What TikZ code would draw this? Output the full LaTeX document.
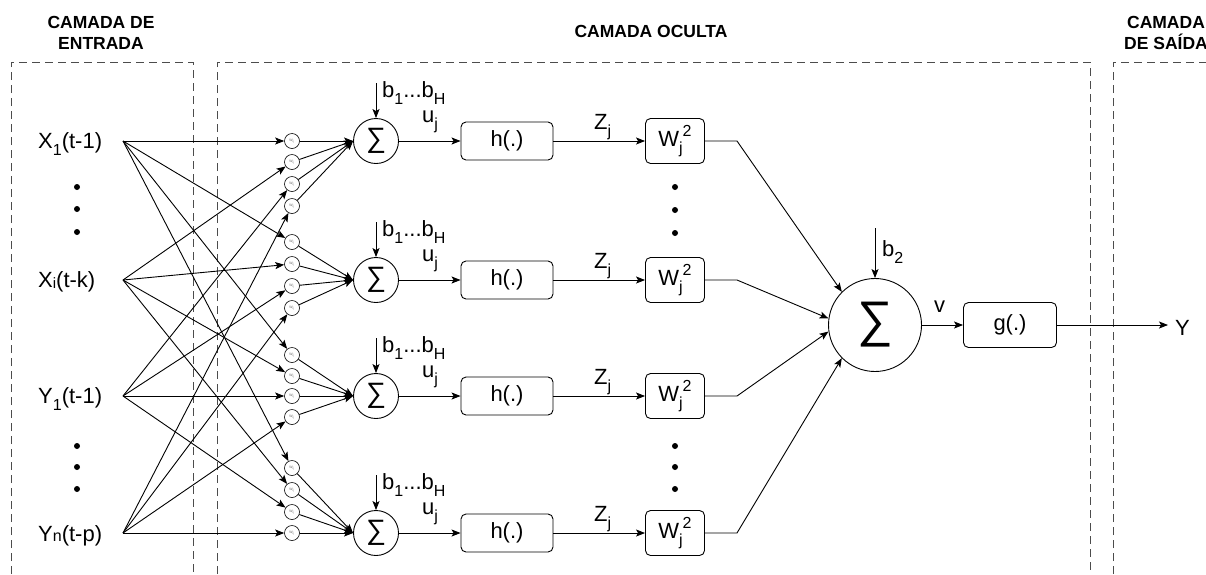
\documentclass[tikz,border=0pt]{standalone}
\usepackage{fontspec}
\setmainfont{Liberation Sans}
\usetikzlibrary{arrows.meta}
% lowered / raised indices set a little larger than \textsubscript
\newcommand\lowidx[1]{\raisebox{-0.32em}{\fontsize{16}{16}\selectfont #1}}
\newcommand\highidx[1]{\raisebox{0.45em}{\fontsize{16}{16}\selectfont #1}}
\begin{document}
\begin{tikzpicture}[x=1pt,y=-1pt,
  conn/.style={draw, line width=0.9pt},
  arr/.style={-{Stealth[length=9pt,width=7pt,inset=2pt]}},
  wt/.style={circle, draw, line width=0.6pt, minimum size=15pt, inner sep=0pt,
    font=\fontsize{4.5}{4.5}\selectfont, text=black!55},
  sumnode/.style={circle, draw, line width=0.9pt, minimum size=45pt, inner sep=0pt,
    font=\fontsize{28}{30}\selectfont},
  fbox/.style={draw, rounded corners=5pt, line width=0.9pt, minimum width=92pt,
    minimum height=38pt, inner sep=0pt, font=\fontsize{22}{24}\selectfont},
  wbox/.style={fbox, minimum width=59pt, minimum height=45pt},
  lbl/.style={font=\fontsize{22}{24}\selectfont, inner sep=0pt},
  ttl/.style={font=\bfseries\fontsize{17.5}{21}\selectfont, align=center, inner sep=0pt},
  zone/.style={draw=black!70, line width=0.9pt, dash pattern=on 8pt off 5pt},
  dot/.style={circle, fill, minimum size=6pt, inner sep=0pt}
]
\clip (0,0) rectangle (1206,574);

% layer frames
\draw[zone] (11,600) -- (11,62) -- (193,62) -- (193,600);
\draw[zone] (217,600) -- (217,62) -- (1090,62) -- (1090,600);
\draw[zone] (1113,600) -- (1113,62) -- (1230,62);

% titles
\node[ttl] (tin) at (101,33) {CAMADA DE\\ENTRADA};
\node[ttl] (thid) at (651,31) {CAMADA OCULTA};
\node[ttl] (tout) at (1166,33) {CAMADA\\DE SAÍDA};

% inputs
\node[lbl, anchor=base west] (x1) at (38,148) {X\lowidx{1}(t-1)};
\node[lbl, anchor=base west] (xi) at (38,287) {X{\fontsize{15}{15}\selectfont\raisebox{-0.1em}{i}}(t-k)};
\node[lbl, anchor=base west] (y1) at (38,403) {Y\lowidx{1}(t-1)};
\node[lbl, anchor=base west] (yn) at (38,541) {Y{\fontsize{16}{16}\selectfont n}(t-p)};
\coordinate (o1) at (123,141);
\coordinate (o2) at (123,280);
\coordinate (o3) at (123,396);
\coordinate (o4) at (123,533);

\node[dot] (da1) at (77,187) {};
\node[dot] (da2) at (77,209) {};
\node[dot] (da3) at (77,232) {};
\node[dot] (db1) at (77,446) {};
\node[dot] (db2) at (77,467) {};
\node[dot] (db3) at (77,489) {};

% weights
\foreach \g/\a/\b/\c/\d in {1/141/162/184/206, 2/242/264/286/308,
                            3/355/376/396/417, 4/468/490/512/533} {
  \node[wt] (w\g-1) at (292,\a) {w\textsubscript{ij}};
  \node[wt] (w\g-2) at (292,\b) {w\textsubscript{ij}};
  \node[wt] (w\g-3) at (292,\c) {w\textsubscript{ij}};
  \node[wt] (w\g-4) at (292,\d) {w\textsubscript{ij}};
}

% hidden neurons
\foreach \g/\y in {1/141, 2/280, 3/396, 4/533} {
  \node[sumnode] (s\g) at (376,\y) {∑};
  \node[fbox] (h\g) at (507,\y) {h(.)};
  \node[wbox] (W\g) at (675,\y) {W\lowidx{j}\highidx{2}};
  \coordinate (bt\g) at (376,{\y-58});
  \coordinate (k\g) at (737,\y);
  \node[lbl, anchor=base west] (bl\g) at (382,{\y-44}) {b\lowidx{1}...b\lowidx{H}};
  \node[lbl, anchor=base west] (u\g) at (422,{\y-19}) {u\lowidx{j}};
  \node[lbl, anchor=base west] (z\g) at (594,{\y-12}) {Z\lowidx{j}};
  \draw[conn,arr] (bt\g) -- (s\g);
  \draw[conn,arr] (s\g) -- (h\g);
  \draw[conn,arr] (h\g) -- (W\g);
  \foreach \k in {1,2,3,4} {
    \draw[conn,arr] (w\g-\k) -- (s\g.west);
    \draw[conn,arr] (o\k) -- (w\g-\k);
  }
}

\node[dot] (dc1) at (675,187) {};
\node[dot] (dc2) at (675,210) {};
\node[dot] (dc3) at (675,233) {};
\node[dot] (dd1) at (675,446) {};
\node[dot] (dd2) at (675,467) {};
\node[dot] (dd3) at (675,489) {};

% output neuron
\node[sumnode, minimum size=93pt, font=\fontsize{50}{52}\selectfont] (big) at (875,325) {∑};
\coordinate (b2t) at (875,228);
\node[lbl, anchor=base west] (b2) at (882,256) {b\lowidx{2}};
\draw[conn,arr] (b2t) -- (big);
\draw[conn,arr] (W1.east) -- (k1) -- (big.135);
\draw[conn,arr] (W2.east) -- (k2) -- (big.172);
\draw[conn,arr] (W3.east) -- (k3) -- (big.188);
\draw[conn,arr] (W4.east) -- (k4) -- (big.225);

\node[fbox, minimum width=93pt, minimum height=45pt] (g) at (1010,325) {g(.)};
\node[lbl, anchor=base west] (v) at (934,312) {v};
\draw[conn,arr] (big) -- (g);
\coordinate (yo) at (1168,325);
\draw[conn,arr] (g) -- (yo);
\node[lbl, anchor=base west] (yout) at (1175,335) {Y};
\end{tikzpicture}
\end{document}
